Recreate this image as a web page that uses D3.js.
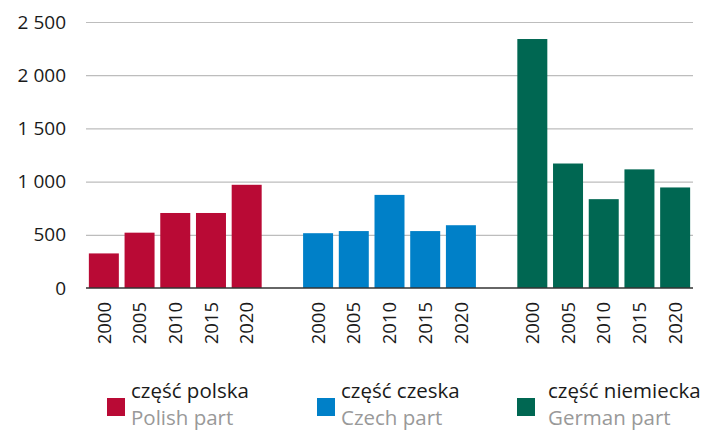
<!DOCTYPE html>
<html>
<head>
<meta charset="utf-8">
<script src="https://cdn.jsdelivr.net/npm/d3@7"></script>
<style>
  body { margin: 0; background: #fff; }
  svg { font-family: "Open Sans", sans-serif; }
  .grid line { stroke: #bdbdbd; stroke-width: 1.2; }
  .grid .domain { display: none; }
</style>
</head>
<body>
<svg id="chart" width="705" height="430"></svg>
<script>
const years = ['2000', '2005', '2010', '2015', '2020'];
const parts = ['pl', 'cz', 'de'];
const partNames = ['część polska', 'część czeska', 'część niemiecka'];
const partNamesEn = ['Polish part', 'Czech part', 'German part'];
const partColors = ['#b90a35', '#0080c8', '#006752'];
const valuesPl = [325, 520, 705, 705, 970];
const valuesCz = [515, 535, 875, 535, 590];
const valuesDe = [2340, 1170, 835, 1115, 945];
const yTicks = [0, 500, 1000, 1500, 2000, 2500];

const seriesValues = [valuesPl, valuesCz, valuesDe];

const margin = { top: 22, right: 12, bottom: 142, left: 86 };
const width = 705 - margin.left - margin.right;
const height = 430 - margin.top - margin.bottom;

// one slot per bar plus one empty slot between groups
const slots = [];
parts.forEach((p, gi) => {
  years.forEach((y) => slots.push(p + '-' + y));
  if (gi < parts.length - 1) slots.push('gap-' + gi);
});

const bars = [];
parts.forEach((p, gi) => {
  years.forEach((y, i) => bars.push({ part: p, gi: gi, year: y, value: seriesValues[gi][i] }));
});

const x = d3.scaleBand()
  .domain(slots)
  .range([0, width])
  .paddingInner(0.16)
  .paddingOuter(0.08);

const y = d3.scaleLinear()
  .domain([0, 2500])
  .range([height, 0]);

const locale = d3.formatLocale({ decimal: ',', thousands: ' ', grouping: [3], currency: ['', ''] });
const fmt = locale.format(',d');

const svg = d3.select('#chart');
const g = svg.append('g').attr('transform', `translate(${margin.left},${margin.top})`);

g.append('g')
  .attr('class', 'grid')
  .call(d3.axisLeft(y).tickValues(yTicks).tickSize(-width).tickFormat(''))
  .call((s) => s.selectAll('.tick').filter((d) => d === 0).remove());

g.append('g')
  .attr('class', 'y axis')
  .call(d3.axisLeft(y).tickValues(yTicks).tickSize(0).tickPadding(20).tickFormat(fmt))
  .call((s) => s.select('.domain').remove())
  .call((s) => s.selectAll('text').attr('font-size', 19).attr('fill', '#1a1a1a').attr('font-family', 'Open Sans'));

g.selectAll('.bar')
  .data(bars)
  .enter().append('rect')
  .attr('class', 'bar')
  .attr('x', (d) => x(d.part + '-' + d.year))
  .attr('y', (d) => y(d.value))
  .attr('width', x.bandwidth())
  .attr('height', (d) => height - y(d.value))
  .attr('fill', (d) => partColors[d.gi]);

g.append('line')
  .attr('x1', 0).attr('x2', width)
  .attr('y1', height).attr('y2', height)
  .attr('stroke', '#333')
  .attr('stroke-width', 1.5);

// rotated year labels
g.selectAll('.year')
  .data(bars)
  .enter().append('text')
  .attr('class', 'year')
  .attr('transform', (d) => `translate(${x(d.part + '-' + d.year) + x.bandwidth() / 2},${height + 14}) rotate(-90)`)
  .attr('text-anchor', 'end')
  .attr('dy', '0.36em')
  .attr('font-size', 18.5)
  .attr('fill', '#1a1a1a')
  .text((d) => d.year);

// legend
const legendX = [107, 317, 517];
const legendTextX = [24, 24, 31];
const legend = svg.selectAll('.legend')
  .data(parts)
  .enter().append('g')
  .attr('class', 'legend')
  .attr('transform', (d, i) => `translate(${legendX[i]},0)`);

legend.append('rect')
  .attr('x', 0).attr('y', 398)
  .attr('width', 18).attr('height', 18)
  .attr('fill', (d, i) => partColors[i]);

legend.append('text')
  .attr('x', (d, i) => legendTextX[i]).attr('y', 398)
  .attr('font-size', 20.5)
  .attr('fill', '#1a1a1a')
  .text((d, i) => partNames[i]);

legend.append('text')
  .attr('x', (d, i) => legendTextX[i]).attr('y', 425)
  .attr('font-size', 20.5)
  .attr('fill', '#999')
  .text((d, i) => partNamesEn[i]);
</script>
</body>
</html>
